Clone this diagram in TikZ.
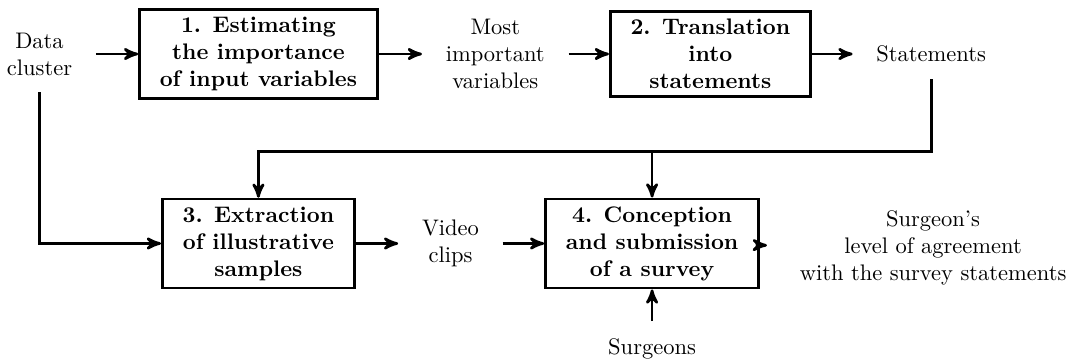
\documentclass[tikz,border=0pt]{standalone}
\usepackage{amsmath}
\usepackage{tikz}
\usetikzlibrary{arrows}

\begin{document}
\begin{tikzpicture}
	[->,>=stealth',auto,node distance=3.4cm,
		very thick,stage node/.style={rectangle,draw,align=center,font=\bfseries,inner xsep=9pt}, data node/.style={align=center,inner xsep=10pt,inner ysep=7pt}]

    \useasboundingbox (-0.617,0.844) rectangle (16.13,-4.766);

    \node[data node] (data) {Data\\cluster};
    \node[stage node] (est)[right of = data, node distance=3.42cm] {1. Estimating\\the importance\\of input variables};
    \node[data node] (vars)[right of = est, node distance=3.70cm] {Most\\important\\variables};
    \node[stage node] (trans)[right of = vars, node distance=3.36cm] {2. Translation\\into\\statements};
    \node[data node] (stmts)[right of = trans, node distance=3.45cm] {Statements};

    \node[stage node] (extr)[below of = est, node distance=2.96cm] {3. Extraction\\of illustrative\\samples};
    \node[data node] (clips)[right of = extr, node distance=3.0cm] {Video\\clips};
    \node[stage node] (surv)[right of = clips, node distance=3.15cm] {4. Conception\\and submission\\of a survey};
    \node[data node, inner xsep=14pt] (agree)[right of = surv, node distance=4.39cm, yshift=-2pt] {Surgeon's\\level of agreement\\with the survey statements};
    \node[data node] (surgeons)[below of = surv, node distance=1.64cm] {Surgeons};

    % split point under the statements
	\coordinate[below of = stmts, node distance=1.52cm] (split);

	\path[]
    (data) edge (est)
    (est) edge (vars)
    (vars) edge (trans)
    (trans) edge (stmts)
    (extr) edge (clips)
    (clips) edge (surv)
    (surv) edge (agree)
    (surgeons) edge (surv)
    ;

    \draw (data) |- (extr);
    \draw (stmts) -- (split) -| (extr);
    \draw (surv |- split) -- (surv);

\end{tikzpicture}
\end{document}
